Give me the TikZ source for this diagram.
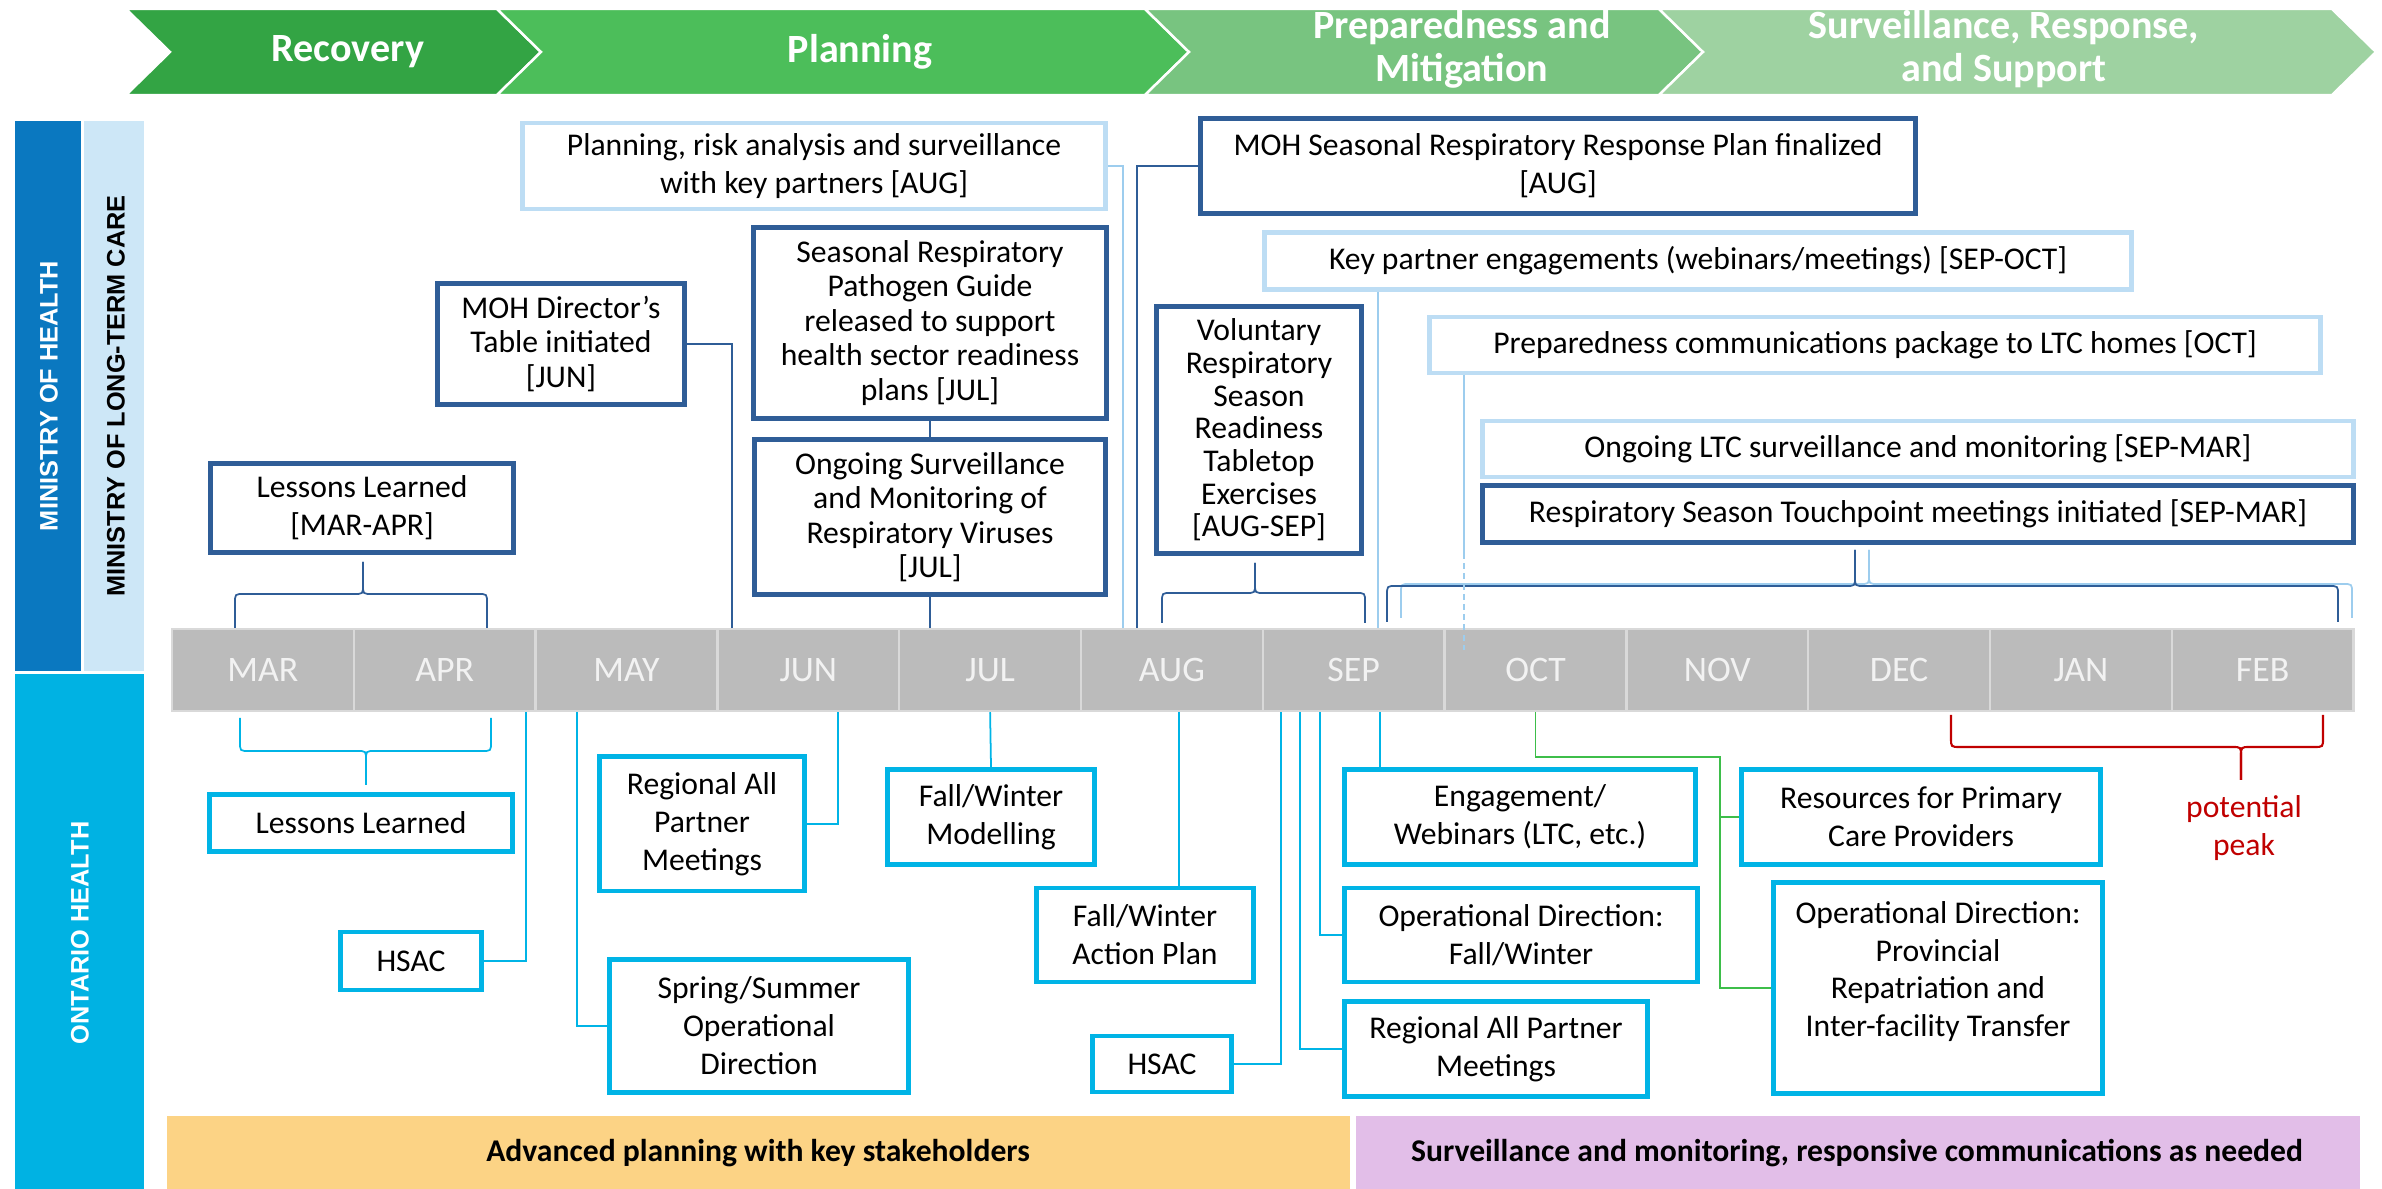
\documentclass[tikz,border=0pt]{standalone}
\usepackage{fontspec}
\setmainfont{Carlito}
\newfontfamily\sidefont{Liberation Sans}
\usepackage{tikz}

\definecolor{phA}{HTML}{33A444}
\definecolor{phB}{HTML}{4CBE5A}
\definecolor{phC}{HTML}{78C480}
\definecolor{phD}{HTML}{9ED2A1}
\definecolor{mohblue}{HTML}{0A78C0}
\definecolor{ltcblue}{HTML}{CDE7F7}
\definecolor{ohblue}{HTML}{00B2E3}
\definecolor{dkblue}{HTML}{2F5D97}
\definecolor{ltblue}{HTML}{BDDDF4}
\definecolor{lnblue}{HTML}{9DCDEE}
\definecolor{cybox}{HTML}{00B4E6}
\definecolor{monthfill}{HTML}{BBBBBB}
\definecolor{monthline}{HTML}{D9D9D9}
\definecolor{greenln}{HTML}{3DBE4A}
\definecolor{peakred}{HTML}{C00000}
\definecolor{advorange}{HTML}{FCD385}
\definecolor{survpurple}{HTML}{E2BEE8}

% brace: style, x left, x right, x tip, y legs, y bar, y tip
\newcommand{\timebrace}[7]{%
  \pgfmathsetmacro{\yc}{#6+9*sign(#5-#6)}
  \pgfmathsetmacro{\yt}{#6+9*sign(#7-#6)}
  \draw[#1] (#2,#5) -- (#2,\yc) .. controls (#2,#6) .. (#2+9,#6) -- (#4-9,#6) .. controls (#4,#6) .. (#4,\yt) -- (#4,#7);
  \draw[#1] (#3,#5) -- (#3,\yc) .. controls (#3,#6) .. (#3-9,#6) -- (#4+9,#6) .. controls (#4,#6) .. (#4,\yt) -- (#4,#7);
}

\begin{document}
\begin{tikzpicture}[x=0.01cm, y=-0.01cm,
  phase/.style={text=white, align=center, font=\bfseries\fontsize{11.4}{12.2}\selectfont},
  side/.style={rotate=90, inner sep=0pt, font=\sidefont\bfseries\fontsize{7.2}{8}\selectfont},
  band/.style={font=\bfseries\fontsize{9}{10}\selectfont},
  month/.style={draw=monthline, line width=0.7pt, fill=monthfill, text=white!95!black, inner sep=0pt,
    minimum width=1.818cm, minimum height=0.82cm, font=\fontsize{10.2}{12}\selectfont},
  box/.style={draw, line width=1.4pt, fill=white, align=center, inner sep=0pt, font=\fontsize{9}{10.8}\selectfont},
  dkbox/.style={box, draw=dkblue},
  ltbox/.style={box, draw=ltblue},
  cybox/.style={box, draw=cybox},
  dklink/.style={draw=dkblue, line width=0.5pt},
  ltlink/.style={draw=lnblue, line width=0.5pt},
  cylink/.style={draw=cybox, line width=0.5pt},
  grlink/.style={draw=greenln, line width=0.5pt}]
\useasboundingbox (0,0) rectangle (2382,1189);

% phases
\foreach \xl/\xr/\c in {126/497/phA, 497/1145/phB, 1145/1659/phC, 1659/2332/phD}
{
	\filldraw[fill=\c, draw=white, line width=0.7pt] (\xl,9) -- (\xr,9) -- (\xr+44,52) -- (\xr,95) -- (\xl,95) -- (\xl+44,52) -- cycle;
}
\node[phase] (recovery) at (348,52) {Recovery};
\node[phase] (planning) at (860,52) {Planning};
\node[phase] (prepared) at (1462,49) {Preparedness and\\Mitigation};
\node[phase] (survresp) at (2004,49) {Surveillance, Response,\\and Support};

% side bands
\fill[mohblue] (15,121) rectangle (81,671);
\fill[ltcblue] (84,121) rectangle (144,671);
\fill[ohblue] (15,674) rectangle (144,1189);
\node[side, text=white] (moh) at (49,396) {MINISTRY OF HEALTH};
\node[side] (mltc) at (116,396) {MINISTRY OF LONG-TERM CARE};
\node[side, text=white] (oh) at (80,933) {ONTARIO HEALTH};

% bottom bands
\fill[advorange] (167,1116) rectangle (1350,1189);
\fill[survpurple] (1356,1116) rectangle (2360,1189);
\node[band] (adv) at (758,1153) {Advanced planning with key stakeholders};
\node[band] (survmon) at (1857,1153) {Surveillance and monitoring, responsive communications as needed};

% months
\foreach \m [count=\i] in {MAR, APR, MAY, JUN, JUL, AUG, SEP, OCT, NOV, DEC, JAN, FEB}
{
	\node[month] (\m) at (172+181.8*\i-90.9, 670) {\m};
}

% ministry boxes
\node[ltbox, minimum width=5.83cm, minimum height=0.86cm] (plan) at (814,166) {Planning, risk analysis and surveillance\\with key partners [AUG]};
\node[dkbox, minimum width=2.47cm, minimum height=1.21cm, font=\fontsize{9}{9.8}\selectfont] (dirtab) at (561,344) {MOH Director’s\\Table initiated\\{}[JUN]};
\node[dkbox, minimum width=3.52cm, minimum height=1.91cm, font=\fontsize{9}{9.8}\selectfont] (guide) at (930,323) {Seasonal Respiratory\\Pathogen Guide\\released to support\\health sector readiness\\plans [JUL]};
\node[dkbox, minimum width=3.51cm, minimum height=1.55cm, font=\fontsize{9}{9.8}\selectfont] (survjul) at (930,517) {Ongoing Surveillance\\and Monitoring of\\Respiratory Viruses\\{}[JUL]};
\node[dkbox, minimum width=3.02cm, minimum height=0.89cm] (lessmoh) at (362,508) {Lessons Learned\\{}[MAR-APR]};
\node[dkbox, minimum width=7.14cm, minimum height=0.95cm] (respplan) at (1558,166) {MOH Seasonal Respiratory Response Plan finalized\\{}[AUG]};
\node[ltbox, minimum width=8.67cm, minimum height=0.57cm] (keyeng) at (1698,261) {Key partner engagements (webinars/meetings) [SEP-OCT]};
\node[dkbox, minimum width=2.05cm, minimum height=2.47cm, font=\fontsize{9}{9.3}\selectfont] (tabletop) at (1259,430) {Voluntary\\Respiratory\\Season\\Readiness\\Tabletop\\Exercises\\{}[AUG-SEP]};
\node[ltbox, minimum width=8.91cm, minimum height=0.56cm] (ltcpkg) at (1875,345) {Preparedness communications package to LTC homes [OCT]};
\node[ltbox, minimum width=8.71cm, minimum height=0.56cm] (ltcsurv) at (1918,449) {Ongoing LTC surveillance and monitoring [SEP-MAR]};
\node[dkbox, minimum width=8.70cm, minimum height=0.57cm] (touch) at (1918,514) {Respiratory Season Touchpoint meetings initiated [SEP-MAR]};

% ontario health boxes
\node[cybox, minimum width=3.02cm, minimum height=0.57cm] (lessoh) at (361,823) {Lessons Learned};
\node[cybox, minimum width=1.41cm, minimum height=0.58cm] (hsacA) at (411,961) {HSAC};
\node[cybox, minimum width=2.05cm, minimum height=1.34cm] (rapmA) at (702,824) {Regional All\\Partner\\Meetings};
\node[cybox, minimum width=2.99cm, minimum height=1.33cm] (spring) at (759,1026) {Spring/Summer\\Operational\\Direction};
\node[cybox, minimum width=2.06cm, minimum height=0.95cm] (fwmodel) at (991,817) {Fall/Winter\\Modelling};
\node[cybox, minimum width=2.16cm, minimum height=0.94cm] (fwplan) at (1145,935) {Fall/Winter\\Action Plan};
\node[cybox, minimum width=1.39cm, minimum height=0.56cm] (hsacB) at (1162,1064) {HSAC};
\node[cybox, minimum width=3.51cm, minimum height=0.95cm] (engage) at (1520,817) {Engagement/\\Webinars (LTC, etc.)};
\node[cybox, minimum width=3.53cm, minimum height=0.94cm] (opdirfw) at (1521,935) {Operational Direction:\\Fall/Winter};
\node[cybox, minimum width=3.03cm, minimum height=0.95cm] (rapmB) at (1496,1049) {Regional All Partner\\Meetings};
\node[cybox, minimum width=3.59cm, minimum height=0.95cm] (primcare) at (1921,817) {Resources for Primary\\Care Providers};
\node[cybox, minimum width=3.29cm, minimum height=2.11cm] (opdirprov) at (1938,988) {Operational Direction:\\Provincial\\Repatriation and\\Inter-facility Transfer\\\mbox{}};
\node[text=peakred, align=center, font=\fontsize{9}{10.8}\selectfont] (peak) at (2244,828) {potential\\peak};

% points on the bar
\foreach \n/\x/\y in {dirpt/732/628, planpt/1123/628, resppt/1137/628, keypt/1378/628, pkgpt/1464/650, pkgdash/1464/553,
	hsacApt/526/712, springpt/577/712, rapmApt/838/712, fwplanpt/1179/712, hsacBpt/1281/712, rapmBpt/1300/712,
	opdirpt/1320/712, engagept/1380/712, greenA/1720/757}
{
	\coordinate (\n) at (\x,\y);
}

% top connectors
\timebrace{dklink}{235}{487}{363}{628}{594}{562}
\timebrace{dklink}{1162}{1365}{1255}{623}{593}{563}
\timebrace{ltlink}{1401}{2352}{1869}{618}{584}{550}
\timebrace{dklink}{1387}{2338}{1855}{622}{586}{550}
\draw[dklink] (dirtab.east) -| (dirpt);
\draw[dklink] (guide.south) -- (survjul.north);
\draw[dklink] (survjul.south) -- (survjul.south |- JUL.north);
\draw[ltlink] (plan.east) -| (planpt);
\draw[dklink] (respplan.west) -| (resppt);
\draw[ltlink] (keyeng.south -| keypt) -- (keypt);
\draw[ltlink] (ltcpkg.south -| pkgdash) -- (pkgdash);
\draw[ltlink, dash pattern=on 1.7pt off 1.2pt] (pkgdash) -- (pkgpt);

% bottom connectors
\timebrace{cylink}{240}{491}{366}{718}{751}{785}
\timebrace{draw=peakred, line width=0.6pt}{1951}{2323}{2241}{715}{747}{780}
\draw[cylink] (hsacA.east) -| (hsacApt);
\draw[cylink] (springpt) |- (spring.west);
\draw[cylink] (rapmA.east) -| (rapmApt);
\draw[cylink] (JUL.south) -- (fwmodel.north);
\draw[cylink] (fwplanpt) -- (fwplanpt |- fwplan.north);
\draw[cylink] (hsacB.east) -| (hsacBpt);
\draw[cylink] (rapmBpt) |- (rapmB.west);
\draw[cylink] (opdirpt) |- (opdirfw.west);
\draw[cylink] (engagept) -- (engagept |- engage.north);
\draw[grlink] (OCT.south) |- (greenA) |- (opdirprov.west);
\draw[grlink] (greenA |- primcare.west) -- (primcare.west);
\end{tikzpicture}
\end{document}
